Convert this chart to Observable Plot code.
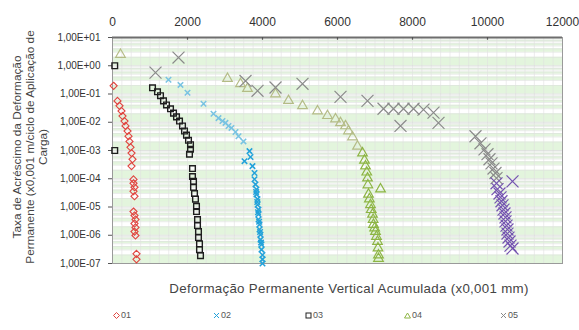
<!DOCTYPE html>
<html><head><meta charset="utf-8">
<script src="https://cdn.jsdelivr.net/npm/d3@7"></script>
<script src="https://cdn.jsdelivr.net/npm/@observablehq/plot@0.6"></script>
<style>
body{margin:0;background:#fff;font-family:Arial,"Liberation Sans",sans-serif;}
#wrap{position:relative;width:579px;height:330px;overflow:hidden;}
.rot{position:absolute;transform:translate(-50%,-50%) rotate(-90deg);white-space:nowrap;font-size:11.8px;color:#444;}
#xt{position:absolute;left:349px;top:288px;transform:translate(-50%,-50%);font-size:13.3px;letter-spacing:0.3px;color:#444;white-space:nowrap;}
#leg{position:absolute;top:310px;left:0;width:579px;font-size:9px;color:#555;}
#leg span{position:absolute;white-space:nowrap;display:flex;align-items:center;gap:1px;}
</style></head>
<body><div id="wrap"></div>
<script>
// ---- data ([x, y]) ----
const xTicks = [0, 2000, 4000, 6000, 8000, 10000, 12000];
const yTicks = [1e-7, 1e-6, 1e-5, 1e-4, 1e-3, 1e-2, 1e-1, 1, 10];
const names = ["01", "02", "03", "04", "05"];
const s01 = [[30,0.195],[133,0.057],[187,0.038],[240,0.025],[267,0.0166],[320,0.011],[347,0.0074],[400,0.0049],[427,0.0032],[453,0.0021],[480,0.0013],[507,8.1e-4],[533,4.9e-4],[507,2.8e-4],[560,9.5e-5],[560,6.9e-5],[587,5e-5],[560,3.6e-5],[587,2.4e-5],[560,6.9e-6],[587,5e-6],[613,3.6e-6],[587,2.6e-6],[613,1.9e-6],[587,1.35e-6],[613,9.8e-7],[640,2.2e-7],[640,1.4e-7]];
const s02 = [[1493,0.32],[1813,0.21],[2000,0.11],[2427,0.045],[2693,0.020],[2827,0.014],[2933,0.011],[3013,0.0095],[3093,0.0074],[3173,0.0063],[3280,0.0045],[3360,0.0032],[3493,0.0021],[3653,9.5e-4],[3520,4.2e-4],[3680,5.9e-4],[3733,2.8e-4],[3787,1.6e-4],[3787,9.6e-5],[3813,6.3e-5],[3840,4.2e-5],[3840,2.8e-5],[3867,1.9e-5],[3867,1.2e-5],[3893,8.1e-6],[3893,5.5e-6],[3893,3.6e-6],[3920,2.4e-6],[3920,1.6e-6],[3947,1.05e-6],[3947,7e-7],[3973,4.7e-7],[3973,3.1e-7],[4000,2.0e-7],[4000,1.4e-7],[4000,1.0e-7],[3830,3.4e-5],[3860,1.5e-5],[3880,6.5e-6],[3910,3e-6],[3935,1.3e-6],[3960,5.5e-7]];
const s03 = [[60,1.0],[60,0.001],[1067,0.166],[1200,0.12],[1280,0.087],[1360,0.057],[1440,0.041],[1547,0.030],[1627,0.021],[1707,0.0155],[1787,0.011],[1867,0.0074],[1920,0.0049],[1973,0.0035],[2027,0.0023],[2080,0.0016],[2080,0.0011],[2053,7.4e-4],[2133,2.3e-4],[2133,1.2e-4],[2160,8.1e-5],[2160,5e-5],[2187,3e-5],[2213,1.9e-5],[2240,1.05e-5],[2240,6.9e-6],[2267,3.6e-6],[2267,2.2e-6],[2293,1.35e-6],[2293,8.3e-7],[2320,5e-7],[2320,3.1e-7],[2347,1.9e-7]];
const s04 = [[213,2.5],[3067,0.35],[3413,0.23],[3600,0.155],[4347,0.10],[4693,0.058],[5067,0.038],[5467,0.025],[5733,0.017],[5947,0.013],[6080,0.0095],[6213,0.0074],[6293,0.0049],[6400,0.003],[6533,0.0014],[6667,8.1e-4],[6747,2.8e-4],[6800,1.05e-4],[7147,4.3e-5],[6827,2.8e-5],[6880,1.2e-5],[6933,5.5e-6],[6960,2.4e-6],[7013,1.35e-6],[7067,6e-7],[7093,2e-7],[7093,1.5e-7],[6720,4.5e-4],[6780,1.7e-4],[6810,6e-5],[6850,1.9e-5],[6900,8e-6],[6950,3.6e-6],[6990,1.8e-6],[7040,9e-7],[7080,3.5e-7]];
const s05 = [[1147,0.57],[1760,1.95],[3547,0.29],[3867,0.13],[4347,0.17],[5067,0.23],[6080,0.079],[6800,0.057],[7227,0.03],[7493,0.03],[7760,0.03],[8027,0.03],[8293,0.028],[8560,0.022],[8693,0.0095],[7680,0.0074],[9680,0.0032],[9813,0.0018],[9920,0.0011],[10000,7.4e-4],[10053,4.9e-4],[10107,3.5e-4],[10160,2.3e-4],[10213,1.6e-4],[10240,1.05e-4],[10667,8.1e-5],[10240,6.9e-5],[10267,4.3e-5],[10320,3e-5],[10347,2.2e-5],[10373,1.6e-5],[10400,1.15e-5],[10427,8.1e-6],[10453,5.9e-6],[10480,4.3e-6],[10480,3.1e-6],[10507,2.2e-6],[10533,1.6e-6],[10533,1.15e-6],[10560,8.3e-7],[10587,6e-7],[10613,4.3e-7],[10667,3.4e-7]];

// ---- styling helpers ----
const fmt = d => { const e = Math.round(Math.log10(d)); return "1,00E" + (e >= 0 ? "+" : "-") + String(Math.abs(e)).padStart(2, "0"); };
const decades = d3.range(-7, 1);
const bands = [];
decades.forEach(n => { [[1,2],[3,4],[5,6],[7,8]].forEach(([a,b]) => bands.push({y1: a * 10 ** n, y2: b * 10 ** n})); });
const minor = [];
decades.forEach(n => { for (let k = 2; k <= 9; k++) minor.push(k * 10 ** n); });
const vgrid = d3.range(250, 12000, 250);

const c02 = d => d[1] > 1e-3 ? "#78c3e2" : "#23a2da";
const c04 = d => d[1] > 1e-3 ? "#b4bc86" : "#8db544";
const c05 = d => d[1] > 1e-4 ? "#8a8a8a" : "#7454b0";

const chart = Plot.plot({
  width: 579, height: 330,
  marginLeft: 112, marginRight: 17, marginTop: 37, marginBottom: 67,
  style: {fontFamily: "Arial, 'Liberation Sans', sans-serif", color: "#333", background: "transparent"},
  x: {domain: [0, 12000]},
  y: {type: "log", domain: [1e-7, 10]},
  marks: [
    Plot.rect(bands, {x1: 0, x2: 12000, y1: "y1", y2: "y2", fill: "#e3f5dd"}),
    Plot.ruleY(minor, {stroke: "#dde0dd", strokeWidth: 0.6}),
    Plot.ruleX(vgrid, {stroke: "#e0e0e0", strokeWidth: 0.6}),
    Plot.ruleY(yTicks, {stroke: "#d3d7d3", strokeWidth: 0.7}),
    Plot.frame({stroke: "#9a9a9a"}),
    Plot.ruleY([10], {stroke: "#6e6e6e", strokeWidth: 2}),
    Plot.ruleX(xTicks.slice(1, -1), {x: d => d, y1: 10, y2: 8, stroke: "#555", strokeWidth: 1.2}),
    Plot.axisY({ticks: yTicks, tickFormat: fmt, tickSize: 4, tickPadding: 8, fontSize: 10, label: null, stroke: "#555"}),
    Plot.axisX({anchor: "top", ticks: xTicks, tickFormat: d => String(d), tickSize: 0, tickPadding: 12, fontSize: 12, label: null}),
    Plot.dot(s01, {x: "0", y: "1", symbol: "diamond2", r: 3.2, stroke: "#e0453f", strokeWidth: 1.1}),
    Plot.dot(s03, {x: "0", y: "1", symbol: "square2", r: 3.6, stroke: "#1e1e1e", strokeWidth: 1.4}),
    Plot.dot(s02, {x: "0", y: "1", symbol: "times", r: 2.6, stroke: c02, strokeWidth: 1.5}),
    Plot.dot(s04, {x: "0", y: "1", symbol: "triangle2", r: 4.6, stroke: c04, strokeWidth: 1.2}),
    Plot.dot(s05, {x: "0", y: "1", symbol: "times", r: 5.5, stroke: c05, strokeWidth: 1.2})
  ]
});
const wrap = document.getElementById("wrap");
wrap.appendChild(chart);

const ylines = [["Taxa de Acréscimo da Deformação", 17], ["Permanente (x0,001 m/ciclo de Aplicação de", 30], ["Carga)", 43]];
ylines.forEach(([t, x]) => { const d = document.createElement("div"); d.className = "rot"; d.style.left = x + "px"; d.style.top = "147px"; d.textContent = t; wrap.appendChild(d); });
const xt = document.createElement("div"); xt.id = "xt"; xt.textContent = "Deformação Permanente Vertical Acumulada (x0,001 mm)"; wrap.appendChild(xt);

const legSym = [
  '<svg width="7" height="7"><path d="M3.5 0.5L6.5 3.5L3.5 6.5L0.5 3.5Z" fill="none" stroke="#e0453f"/></svg>',
  '<svg width="7" height="7"><path d="M1 1L6 6M6 1L1 6" stroke="#23a2da"/></svg>',
  '<svg width="7" height="7"><rect x="1" y="1" width="5" height="5" fill="none" stroke="#222"/></svg>',
  '<svg width="7" height="7"><path d="M3.5 1L6.5 6L0.5 6Z" fill="none" stroke="#8db544"/></svg>',
  '<svg width="7" height="7"><path d="M1 1L6 6M6 1L1 6" stroke="#8a8a8a"/></svg>'
];
const legX = [113, 213, 305, 404, 500];
const leg = document.createElement("div"); leg.id = "leg";
names.forEach((n, i) => { const s = document.createElement("span"); s.style.left = legX[i] + "px"; s.innerHTML = legSym[i] + "<b style='font-weight:normal'>" + n + "</b>"; leg.appendChild(s); });
wrap.appendChild(leg);
</script></body></html>
